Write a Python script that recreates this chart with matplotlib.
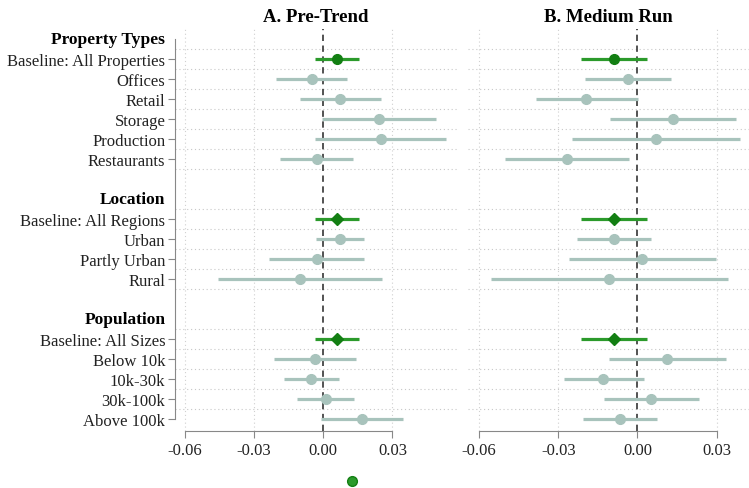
import numpy as np
import matplotlib.pyplot as plt
from matplotlib.lines import Line2D

plt.rcParams["font.family"] = ["Liberation Serif", "DejaVu Serif"]

# row layout: group headers and estimate labels, top to bottom
headers = {0: "Property Types", 8: "Location", 14: "Population"}
labels = [
    "Baseline: All Properties", "Offices", "Retail", "Storage", "Production", "Restaurants",
    "Baseline: All Regions", "Urban", "Partly Urban", "Rural",
    "Baseline: All Sizes", "Below 10k", "10k-30k", "30k-100k", "Above 100k",
]
rows = [1, 2, 3, 4, 5, 6, 9, 10, 11, 12, 15, 16, 17, 18, 19]
is_base = [True, False, False, False, False, False,
           True, False, False, False,
           True, False, False, False, False]
base_marker = ["o", None, None, None, None, None,
               "D", None, None, None,
               "D", None, None, None, None]

# A. Pre-Trend: point estimate and 95% CI
pre_est = [0.0061, -0.0050, 0.0072, 0.0241, 0.0249, -0.0026,
           0.0061, 0.0072, -0.0029, -0.0101,
           0.0061, -0.0037, -0.0053, 0.0010, 0.0166]
pre_lo = [-0.0035, -0.0205, -0.0101, -0.0006, -0.0035, -0.0188,
          -0.0035, -0.0032, -0.0234, -0.0455,
          -0.0035, -0.0214, -0.0172, -0.0114, -0.0010]
pre_hi = [0.0155, 0.0101, 0.0249, 0.0489, 0.0531, 0.0130,
          0.0155, 0.0178, 0.0178, 0.0256,
          0.0155, 0.0140, 0.0067, 0.0132, 0.0344]

# B. Medium Run
mid_est = [-0.0089, -0.0036, -0.0193, 0.0135, 0.0070, -0.0267,
           -0.0089, -0.0088, 0.0019, -0.0106,
           -0.0089, 0.0114, -0.0129, 0.0053, -0.0067]
mid_lo = [-0.0213, -0.0198, -0.0386, -0.0102, -0.0249, -0.0500,
          -0.0213, -0.0228, -0.0258, -0.0555,
          -0.0213, -0.0107, -0.0279, -0.0125, -0.0208]
mid_hi = [0.0036, 0.0127, 0.0003, 0.0373, 0.0388, -0.0033,
          0.0036, 0.0052, 0.0297, 0.0345,
          0.0036, 0.0336, 0.0024, 0.0233, 0.0076]

xticks = [-0.06, -0.03, 0.00, 0.03]

green_line = "#2b9a2b"
green_mark = "#137f13"
grey = "#a8c3bc"

W, H = 749, 489
fig = plt.figure(figsize=(W / 100, H / 100), dpi=100)

top, bottom = 30, 432
panels = [
    ("A. Pre-Trend", 175, 457, (-0.0643, 0.058), pre_est, pre_lo, pre_hi),
    ("B. Medium Run", 468, 749, (-0.0642, 0.0423), mid_est, mid_lo, mid_hi),
]

# dotted separators above each row, plus one closing the first two groups
grid_rows = sorted(set([r - 0.5 for r in rows] + [6.5, 12.5]))

for k, (title, x0, x1, xlim, est, lo, hi) in enumerate(panels):
    ax = fig.add_axes([x0 / W, 1 - bottom / H, (x1 - x0) / W, (bottom - top) / H])
    ax.set_xlim(*xlim)
    ax.set_ylim(19.6, -0.5)

    for g in grid_rows:
        ax.axhline(g, color="#c8c8c8", lw=0.8, ls=(0, (1, 2.5)), zorder=0)
    for t in xticks:
        if t != 0:
            ax.axvline(t, color="#d0d0d0", lw=0.8, ls=(0, (1, 2.5)), zorder=0)
    ax.axvline(0, color="#444444", lw=1.3, ls=(0, (3.5, 2.5)), zorder=1)

    for i, r in enumerate(rows):
        if is_base[i]:
            ax.plot([lo[i], hi[i]], [r, r], color=green_line, lw=2.3,
                    solid_capstyle="butt", zorder=3)
            ax.plot(est[i], r, marker=base_marker[i], ms=7 if base_marker[i] == "o" else 6.5,
                    color=green_mark, mec=green_mark, zorder=4)
        else:
            ax.plot([lo[i], hi[i]], [r, r], color=grey, lw=2.3,
                    solid_capstyle="butt", zorder=2)
            ax.plot(est[i], r, marker="o", ms=7, color=grey, mec=grey, zorder=3)

    ax.set_xticks(xticks)
    ax.set_xticklabels([f"{t:.2f}" for t in xticks], fontsize=12, color="#222222")
    ax.tick_params(axis="x", length=5, width=0.8, color="#888888", pad=3)
    ax.spines["bottom"].set_bounds(-0.06, 0.03)
    ax.spines["bottom"].set_color("#888888")
    ax.spines["top"].set_visible(False)
    ax.spines["right"].set_visible(False)
    ax.set_title(title, fontsize=13.5, fontweight="bold", pad=6)

    if k == 0:
        ax.set_yticks(rows)
        ax.set_yticklabels(labels, fontsize=12, color="#222222")
        ax.tick_params(axis="y", length=5, width=0.8, color="#888888", pad=2)
        ax.spines["left"].set_bounds(0, 19)
        ax.spines["left"].set_color("#888888")
        for r, h in headers.items():
            ax.annotate(h, xy=(0, r), xycoords=("axes fraction", "data"),
                        xytext=(-7, 0), textcoords="offset points",
                        ha="right", va="center", fontsize=12.5, fontweight="bold")
    else:
        ax.set_yticks([])
        ax.spines["left"].set_visible(False)

# single marker legend below the panels
handle = Line2D([], [], marker="o", ls="none", ms=7, color=green_line, mec=green_mark)
fig.legend([handle], [""], loc="center", bbox_to_anchor=(352 / W, 1 - 483 / H),
           frameon=False, handletextpad=0, handlelength=1, borderpad=0)

fig.savefig("out.png", dpi=100)
